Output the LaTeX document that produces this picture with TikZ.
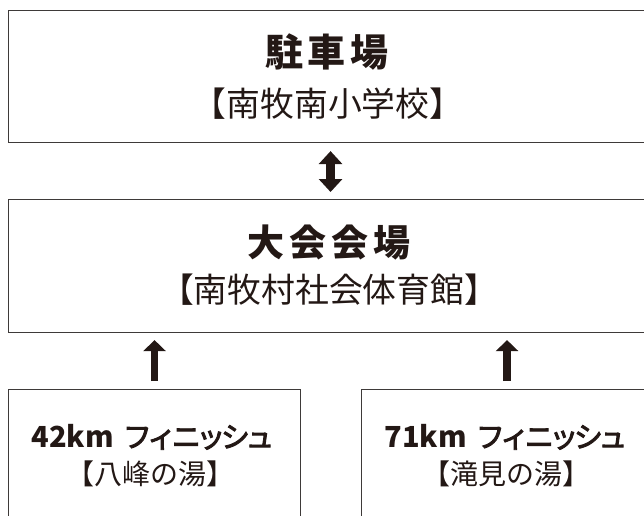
\documentclass[tikz,border=0pt]{standalone}
\usepackage{fontspec}
\setmainfont{Noto Sans CJK JP}
\newfontfamily\jpmed{Noto Sans CJK JP}[FakeBold=3]
\usetikzlibrary{arrows.meta}
\definecolor{ink}{HTML}{231815}
\definecolor{frame}{HTML}{3E3A39}
\newcommand{\kk}{\kern-4.5pt}
\begin{document}
\begin{tikzpicture}[x=1pt,y=-1pt,
  box/.style={draw=frame,line width=1.1pt,rectangle,inner sep=0pt,anchor=north west},
  txt/.style={text=ink,inner sep=0pt,anchor=center},
  dblarrow/.style={draw=ink,line width=8.5pt,{Triangle[width=23pt,length=13pt]}-{Triangle[width=23pt,length=13pt]},shorten <=8pt,shorten >=7pt},
  uparrow/.style={draw=ink,line width=7.5pt,-{Triangle[width=22pt,length=11pt]},shorten <=8pt,shorten >=7pt}]
\useasboundingbox (0,0) rectangle (644,515);
\clip (0,0) rectangle (644,515);
% boxes
\node[box,minimum width=638pt,minimum height=132pt] (park) at (8,10) {};
\node[box,minimum width=638pt,minimum height=133pt] (venue) at (8,199) {};
\node[box,minimum width=292pt,minimum height=132pt] (f42) at (8,389) {};
\node[box,minimum width=291pt,minimum height=132pt] (f71) at (361,389) {};
% texts
\node[txt,font=\bfseries\fontsize{38pt}{44pt}\selectfont] (parkA) at (327,52) {駐\hspace{5pt}車\hspace{5pt}場};
\node[txt,font=\fontsize{33.8pt}{38pt}\selectfont] (parkB) at (328,104) {【南牧南小学校】};
\node[txt,font=\bfseries\fontsize{37pt}{44pt}\selectfont] (venueA) at (329,243) {大\hspace{5pt}会\hspace{5pt}会\hspace{5pt}場};
\node[txt,font=\fontsize{33.8pt}{38pt}\selectfont] (venueB) at (329,290) {【南牧村社会体育館】};
\node[txt,font=\fontsize{29pt}{34pt}\selectfont] (f42A) at (153,437) {{\bfseries 42km}\hspace{9pt}{\jpmed フ\kk ィ\kk ニ\kk ッ\kk シ\kk ュ}};
\node[txt,font=\fontsize{28pt}{32pt}\selectfont] (f42B) at (150,474) {【八峰の湯】};
\node[txt,font=\fontsize{29pt}{34pt}\selectfont] (f71A) at (506,437) {{\bfseries 71km}\hspace{9pt}{\jpmed フ\kk ィ\kk ニ\kk ッ\kk シ\kk ュ}};
\node[txt,font=\fontsize{28pt}{32pt}\selectfont] (f71B) at (506,474) {【滝見の湯】};
% arrows
\draw[dblarrow] ([xshift=3pt]park.south) -- ([xshift=3pt]venue.north);
\draw[uparrow] (f42.north) -- (f42.north |- venue.south);
\draw[uparrow] (f71.north) -- (f71.north |- venue.south);
\end{tikzpicture}
\end{document}
